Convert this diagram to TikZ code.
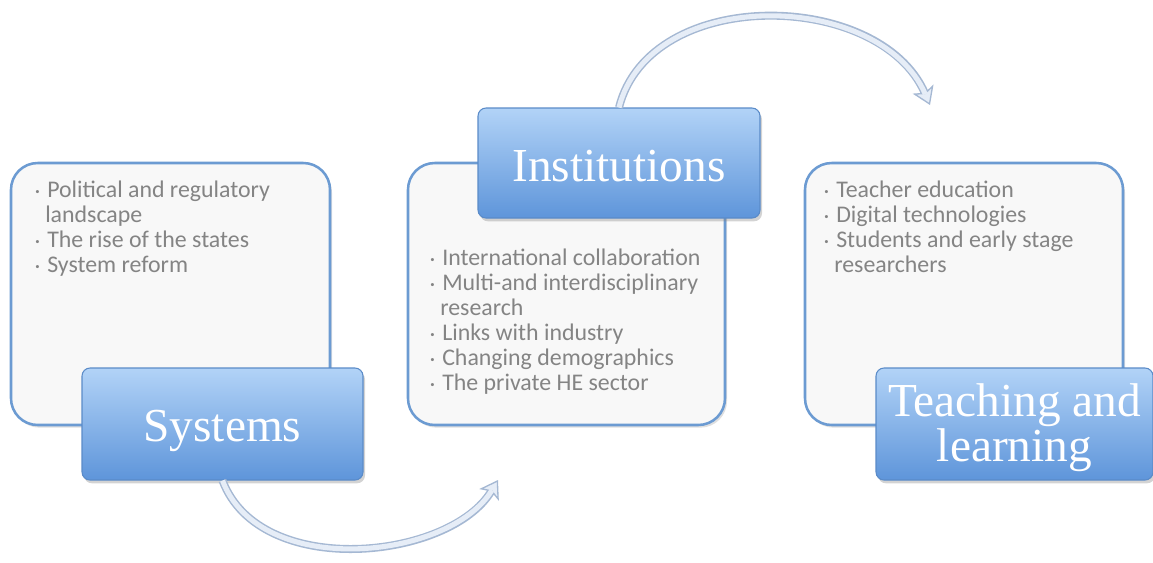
\documentclass[tikz,border=0pt]{standalone}
\usepackage{fontspec}
\setmainfont{Liberation Serif}
\newfontfamily\bodyfont{Carlito}
\usetikzlibrary{shadows,arrows.meta}
\definecolor{wborder}{HTML}{6C9BD2}
\definecolor{wfill}{HTML}{F8F8F8}
\definecolor{btop}{HTML}{B2D3F7}
\definecolor{bmid}{HTML}{8CBCF0}
\definecolor{bbot}{HTML}{5E95DA}
\definecolor{bborder}{HTML}{5A8BC8}
\definecolor{txtgray}{HTML}{848484}
\definecolor{arrfill}{HTML}{E6EDF7}
\definecolor{arrline}{HTML}{A5B8D3}
\newcommand{\bul}{\makebox[9pt][l]{\raisebox{0.3ex}{\fontsize{6.5pt}{6.5pt}\selectfont\textbullet}}}
\newcommand{\cont}{\hspace*{7.5pt}}
\begin{document}
\begin{tikzpicture}[x=0.75pt,y=-0.75pt,
  panelbox/.style={draw=wborder, line width=1.9pt, fill=wfill, rounded corners=20pt,
    drop shadow={opacity=0.25,shadow xshift=1.5pt,shadow yshift=-2pt}},
  headbox/.style={draw=bborder, line width=0.8pt, rounded corners=6pt,
    top color=btop, middle color=bmid, bottom color=bbot,
    drop shadow={opacity=0.35,shadow xshift=1.5pt,shadow yshift=-2.5pt},
    inner sep=0pt},
  headtext/.style={text=white, font=\fontsize{35.5pt}{34pt}\selectfont, align=center, inner sep=0pt},
  bullettext/.style={text=txtgray, font=\bodyfont\fontsize{17.9pt}{18.75pt}\selectfont,
    align=left, inner sep=0pt, anchor=north west},
  arrowouter/.style={line width=6pt, draw=arrline,
    -{Stealth[length=13pt,width=17pt,inset=3pt,line width=1pt,fill=arrfill]}},
  arrowinner/.style={line width=3.8pt, draw=arrfill, shorten >=9pt}
]
\useasboundingbox (0,0) rectangle (1153,562);

% panels
\node[panelbox, minimum width=319*0.75pt, minimum height=262*0.75pt] (pl) at (170.5,294) {};
\node[panelbox, minimum width=317*0.75pt, minimum height=262*0.75pt] (pm) at (566.5,294) {};
\node[panelbox, minimum width=318*0.75pt, minimum height=262*0.75pt] (pr) at (964,294) {};

% bullet texts
\node[bullettext] (tl) at (35,181) {\bul Political and regulatory\\
  \cont landscape\\
  \bul The rise of the states\\
  \bul System reform};
\node[bullettext] (tm) at (430,249) {\bul International collaboration\\
  \bul Multi-and interdisciplinary\\
  \cont research\\
  \bul Links with industry\\
  \bul Changing demographics\\
  \bul The private HE sector};
\node[bullettext] (tr) at (824,181) {\bul Teacher education\\
  \bul Digital technologies\\
  \bul Students and early stage\\
  \cont researchers};

% arrow anchors
\coordinate (e1) at (498,480);
\coordinate (e2) at (930,105);

% heading boxes
\node[headbox, minimum width=281*0.75pt, minimum height=112*0.75pt] (sys) at (222.5,424) {};
\node[headbox, minimum width=282*0.75pt, minimum height=110*0.75pt] (inst) at (619,163) {};
\node[headbox, minimum width=277*0.75pt, minimum height=112*0.75pt] (teach) at (1014.5,424) {};

% arrows
\draw[arrowouter] (sys.south) .. controls (260,580) and (450,560) .. (e1);
\draw[arrowinner] (sys.south) .. controls (260,580) and (450,560) .. (e1);
\draw[arrowouter] (inst.north) .. controls (650,-15) and (880,-10) .. (e2);
\draw[arrowinner] (inst.north) .. controls (650,-15) and (880,-10) .. (e2);

% heading texts
\node[headtext, yshift=-5pt] (sysl) at (sys.center) {Systems};
\node[headtext, yshift=-2pt] (instl) at (inst.center) {Institutions};
\node[headtext, yshift=-3pt] (teachl) at (teach.center) {Teaching and\\learning};
\end{tikzpicture}
\end{document}
